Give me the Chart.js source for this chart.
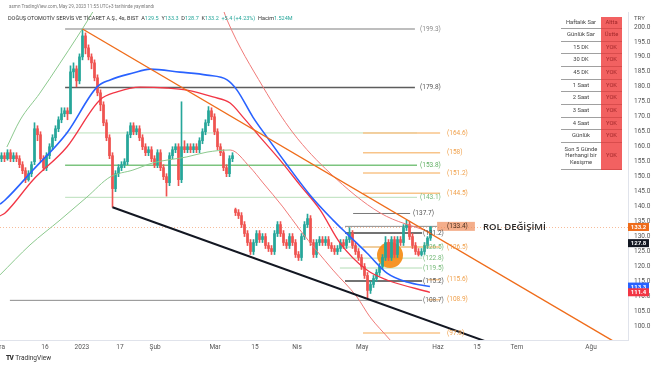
<!DOCTYPE html>
<html lang="tr">
<head>
<meta charset="utf-8">
<title>DOAS 4s</title>
<script src="https://cdn.jsdelivr.net/npm/chart.js@4.4.1/dist/chart.umd.min.js"></script>
<style>
  html, body { margin: 0; padding: 0; background: #fff; }
  body { width: 654px; height: 366px; position: relative; overflow: hidden; font-family: Roboto, 'Open Sans', sans-serif; }
  #chartBox { position: absolute; left: 0; top: 0; width: 654px; height: 366px; }
  .pub { position: absolute; left: 9px; top: 4px; font-size: 4.6px; color: #7a7a7a; white-space: nowrap; }
  .legend { position: absolute; left: 8px; top: 14.5px; font-size: 5.5px; color: #333; white-space: nowrap; }
  .legend .up { color: #26a69a; }
  .cur { position: absolute; left: 634px; top: 14px; font-size: 6px; color: #555; }
  .brand { position: absolute; left: 6px; top: 354px; font-size: 6.5px; color: #333; white-space: nowrap; }
  .brand b { font-weight: 900; letter-spacing: -0.6px; margin-right: 2px; }
  #sarTable { position: absolute; left: 561px; top: 17px; border-collapse: collapse; font-size: 5.8px; line-height: 1.15; }
  #sarTable td { padding: 0; text-align: center; }
  #sarTable td.k { width: 40px; color: #444; background: #fff; border-bottom: 1px solid #a0a0a0; }
  #sarTable td.v { width: 21px; color: #a3282b; background: #f26161; border-bottom: 1px solid #d94c4c; }
</style>
</head>
<body>
<div id="chartBox"><canvas id="doasChart" width="654" height="366"></canvas></div>
<div class="pub">asmn TradingView.com, May 29, 2023 11:55 UTC+3 tarihinde yayınlandı</div>
<div class="legend" id="legend"></div>
<div class="cur">TRY</div>
<table id="sarTable"></table>
<div class="brand"><b>TV</b>TradingView</div>
<script>
// mumlar (4 saatlik), soldan sağa
const opens = [156,157,156,158,156,157,156,154,152,149, 151,155,166,164,156,153,157,160,163,166,
  169,171,172,171,185,186,182,190,197,193, 190,188,183,178,174,168,163,157,146,151,
  153,154,155,164,167,165,166,163,160,158, 159,156,154,158,153,150,148,157,159,160,
  149,160,159,160,159,160,159,162,165,168, 172,170,165,160,158,153,151,156,139,138,
  137,134,131,128,125,128,131,129,130,127, 126,125,131,134,131,128,127,130,128,124,
  123,130,134,136,128,124,128,129,128,129, 127,126,125,126,128,127,129,131,127,125,
  123,120,117,112,114,116,118,120,123,128, 123,129,124,129,128,133,134,130,127,125,
  124,125,127,129.5];
const highs = [158,158,159,159,158,158,157,155,153,152, 155,168,167,165,157,158,161,164,167,170,
  173,173,173,187,188,187,191,199.3,198,194, 191,189,184,179,175,169,164,158,152,154,
  155,156,165,168,168,167,167,164,161,160, 160,157,159,159,154,151,158,160,161,161,
  175,162,161,161,161,161,163,166,169,173.4, 173,171,166,161,159,154,157,158,139.5,139,
  138,135,132,129,129,132,132,131,131,128, 127,132,135,135,132,129,131,131,129,125,
  131,135,137.5,137,129,129,130,130,130,130, 128,127,127,129,129,130,133,132,128,126,
  124,121,118,115,117,119,121,124,130,129, 130,130,130,130,134,135.5,135,131,128,126,
  126,128,130,133.3];
const lows = [155,155,155.5,155,155,155,153,151,148,148.5, 150,154,162,155,152,152,156,159,162,165,
  168,170,169,171,183,180,181,189,191,189, 186,182,177,172,167,162,156,139.8,145,150,
  152,153,154,163,164,164,162,159,157,157, 155,153,153,152,149,143.5,147,156,158,147,
  148,158,158,158,158,158,158,161,164,167, 169,164,159,157,152,150,150,155,137,136,
  133,130,127,124,124,127,128,128,126,125, 124,124,130,130,127,126,126,127,123,122,
  122,129,133,127,123,123,127,127,127,126, 125,124,124,125,126,126,128,126,124,122,
  119,116,109.5,111,113,115,117,119,122,122, 122,123,123,127,127,132,129,126,124,123.5,
  123.5,124,126,128.7];
const closes = [157,156,158,156,157,156,154,152,149,151, 154,166,164,156,153,157,160,163,166,169,
  171,172,171,185,186,182,190,197,193,190, 188,183,178,174,168,163,157,146,151,153,
  154,155,164,167,165,166,163,160,158,159, 156,154,158,153,150,148,157,159,160,149,
  160,159,160,159,160,159,162,165,168,172, 170,165,160,158,153,151,156,157,138,137,
  134,131,128,125,128,131,129,130,127,126, 125,131,134,131,128,127,130,128,124,123,
  130,134,136,128,124,128,129,128,129,127, 126,125,126,128,127,129,131,127,125,123,
  120,117,112,114,116,118,120,123,128,123, 129,124,129,128,133,134,130,127,125,124,
  125,127,129.5,133.2];
const prevDayClose = 127.8;
const volumeText = '1.524M';

// hareketli ortalamalar (mum sırası, fiyat)
const blueMaX = [-0.5, 1.2, 10.5, 21.8, 31.8, 36.2, 43.8, 49.5, 59.5, 68.5, 75.2, 78.5, 83.8, 88.5, 95.2, 102.8, 110.5, 115.2, 121.8, 128.5, 135.2, 142.8];
const blueMaY = [140.8, 142.2, 152.2, 164.6, 179.9, 182.3, 184.6, 185.9, 184.9, 183.9, 182.3, 178.9, 169.9, 163.2, 153.9, 143.9, 135.5, 130.9, 124.5, 117.8, 114.8, 113.3];
const redMaX = [-0.5, 1.2, 10.5, 21.8, 32.8, 38.5, 46.2, 55.2, 61.8, 70.5, 76.2, 80.5, 86.2, 92.8, 99.5, 106.2, 112.8, 121.8, 128.5, 142.8];
const redMaY = [136.9, 137.9, 148.9, 159.9, 175.6, 178.3, 179.9, 179.6, 178.9, 176.6, 174.6, 169.9, 163.2, 155.6, 147.2, 138.9, 127.9, 118.8, 115.5, 111.4];
const upperRiseX = [1.8, 6.2, 12.8, 19.5, 25.2, 28.8, 32.8];
const upperRiseY = [159.9, 168.9, 177.9, 187.9, 196.6, 202.3, 209];
const upperFallX = [72.8, 75.2, 87.2, 97.2, 109.5, 126.2, 142.8];
const upperFallY = [209, 202.3, 179.9, 164.6, 151.2, 137.9, 131.5];
const slowMaX = [-0.5, 9.5, 19.5, 28.5, 36.2, 43.8, 50.5, 61.8, 68.5, 76.2, 82.8, 87.2, 93.8, 99.5, 110.5, 118.5, 122.8, 129.5, 132.8];
const slowMaY = [117.2, 127.2, 135.5, 143.2, 149.9, 152.2, 154.6, 156.6, 158.2, 158.9, 153.2, 147.9, 139.9, 132.2, 118.8, 109.8, 103.2, 95.5, 91.5];

// trend çizgileri
const resistX = [27, 208];
const resistY = [199.3, 92.7];
const supportX = [37, 175];
const supportY = [139.8, 90.1];

// işaretlenen bölge
const zoneX = [129.5];
const zoneY = [123.8];

// yatay seviyeler
const levelPrices = [199.3, 179.8, 164.6, 164.6, 158, 153.8, 151.2, 144.5, 143.1, 137.7, 133.4, 131.2, 126.5, 126.5, 122.8, 119.5, 115.6, 115.2, 108.9, 108.7, 97.8];
const levelKinds = ['gray', 'dark', 'greenLine', 'orange', 'orange', 'green', 'orange', 'orange', 'greenFaint', 'grayShort', 'role', 'darkShort', 'greenShort', 'orange', 'greenShort', 'greenShort', 'orangeShort', 'darkShort', 'orangeShort', 'grayLong', 'orange'];
const roleNote = 'ROL DEĞİŞİMİ';

// eksen
const tickPos = [-0.5, 14.5, 26.8, 39.5, 51.2, 71.2, 84.5, 98.5, 120.2, 145.5, 158.5, 171.8, 196.5];
const tickLabels = ['Ara', '16', '2023', '17', 'Şub', 'Mar', '15', 'Nis', 'May', 'Haz', '15', 'Tem', 'Ağu'];

// SAR tablosu
const sarLabels = ['Haftalık Sar', 'Günlük Sar', '15 DK', '30 DK', '45 DK', '1 Saat', '2 Saat', '3 Saat', '4 Saat', 'Günlük', 'Son 5 Günde Herhangi bir Kesişme'];
const sarValues = ['Altta', 'Üstte', 'YOK', 'YOK', 'YOK', 'YOK', 'YOK', 'YOK', 'YOK', 'YOK', 'YOK'];

const colors = {
    up: '#26a69a',
    down: '#ef5350',
    blue: '#2962ff',
    red: '#f23645',
    thinGreen: '#8cc98e',
    thinRed: '#f07a78',
    orange: '#ef6c1a',
    black: '#131722',
    text: '#555'
};

// başlık
const last = closes.length - 1;
const chg = closes[last] - prevDayClose;
document.getElementById('legend').innerHTML =
    'DOĞUŞ OTOMOTİV SERVİS VE TİCARET A.Ş., 4s, BIST&nbsp;&nbsp;' +
    'A<span class="up">' + opens[last].toFixed(1) + '</span>&nbsp;&nbsp;' +
    'Y<span class="up">' + highs[last].toFixed(1) + '</span>&nbsp;&nbsp;' +
    'D<span class="up">' + lows[last].toFixed(1) + '</span>&nbsp;&nbsp;' +
    'K<span class="up">' + closes[last].toFixed(1) + '&nbsp;&nbsp;+' + chg.toFixed(1) +
    ' (+' + (chg / prevDayClose * 100).toFixed(2) + '%)</span>&nbsp;&nbsp;' +
    'Hacim<span class="up">' + volumeText + '</span>';

// tablo
const rowHeights = [11, 13, 12, 13, 13, 12, 13, 13, 12, 13, 27];
const tbl = document.getElementById('sarTable');
sarLabels.forEach((lab, i) => {
    const tr = document.createElement('tr');
    tr.style.height = rowHeights[i] + 'px';
    tr.innerHTML = '<td class="k">' + lab + '</td><td class="v">' + sarValues[i] + '</td>';
    tbl.appendChild(tr);
});

const levelLook = {
    gray:        { from: 21.2, to: 137.8, color: '#a8a8a8', width: 1.5, labelX: 139.5, text: '#8a8a8a' },
    dark:        { from: 21.2, to: 137.8, color: '#5d5d5d', width: 1.5, labelX: 139.5, text: '#555' },
    greenLine:   { from: 21.2, to: 138.5, color: 'rgba(129,199,132,0.55)', width: 1, labelX: null },
    greenFaint:  { from: 21.2, to: 138.5, color: 'rgba(129,199,132,0.55)', width: 1, labelX: 139.5, text: '#74b977' },
    green:       { from: 21.2, to: 138.5, color: '#7cc47f', width: 1.5, labelX: 139.5, text: '#5fae62' },
    orange:      { from: 120.5, to: 146.2, color: '#f8c48a', width: 1.5, labelX: 148.5, text: '#f0a04b' },
    orangeShort: { from: 142.2, to: 146.2, color: '#f8c48a', width: 1.5, labelX: 148.5, text: '#f0a04b' },
    grayShort:   { from: 117.2, to: 136.2, color: '#7a7a7a', width: 1, labelX: 137.2, text: '#555' },
    darkShort:   { from: 114.5, to: 140.2, color: '#444', width: 1.5, labelX: 140.5, text: '#555' },
    greenShort:  { from: 112.8, to: 140.2, color: 'rgba(129,199,132,0.6)', width: 1, labelX: 140.5, text: '#74b977' },
    grayLong:    { from: 2.8, to: 140.2, color: '#8c8c8c', width: 1, labelX: 140.5, text: '#666' },
    role:        { from: 114.5, to: 145.2, color: '#8c8c8c', width: 1, labelX: 148.5, text: '#4a3020', box: [145.2, 157.8] }
};
const roleNoteX = 160.5;

const overlay = {
    id: 'overlay',
    beforeDatasetsDraw(chart) {
        const { ctx, chartArea: a } = chart;
        const { x, y } = chart.scales;
        ctx.save();
        ctx.beginPath(); ctx.rect(a.left, a.top, a.width, a.height); ctx.clip();
        // son fiyat çizgisi
        const py = Math.round(y.getPixelForValue(closes[last])) + 0.5;
        ctx.strokeStyle = 'rgba(238,106,31,0.45)';
        ctx.lineWidth = 1;
        ctx.setLineDash([1, 2]);
        ctx.beginPath(); ctx.moveTo(a.left, py); ctx.lineTo(a.right, py); ctx.stroke();
        ctx.setLineDash([]);
        levelPrices.forEach((p, i) => {
            const look = levelLook[levelKinds[i]];
            const yy = y.getPixelForValue(p);
            ctx.strokeStyle = look.color;
            ctx.lineWidth = look.width;
            ctx.beginPath();
            ctx.moveTo(x.getPixelForValue(look.from), yy);
            ctx.lineTo(x.getPixelForValue(look.to), yy);
            ctx.stroke();
        });
        ctx.restore();
    },
    afterDatasetsDraw(chart) {
        const { ctx } = chart;
        const { x, y } = chart.scales;
        ctx.save();
        ctx.font = '6.5px Roboto, sans-serif';
        ctx.textBaseline = 'middle';
        ctx.textAlign = 'left';
        levelPrices.forEach((p, i) => {
            const look = levelLook[levelKinds[i]];
            if (look.labelX == null) return;
            const yy = y.getPixelForValue(p);
            if (look.box) {
                const x0 = x.getPixelForValue(look.box[0]);
                const x1 = x.getPixelForValue(look.box[1]);
                ctx.fillStyle = 'rgba(240,140,90,0.7)';
                ctx.fillRect(x0, yy - 4.5, x1 - x0, 9);
                ctx.font = '600 9.5px "Open Sans", sans-serif';
                ctx.fillStyle = '#2b2b2b';
                ctx.fillText(roleNote, x.getPixelForValue(roleNoteX), yy + 1);
                ctx.font = '6.5px Roboto, sans-serif';
            }
            ctx.fillStyle = look.text;
            ctx.fillText('(' + p + ')', x.getPixelForValue(look.labelX), yy);
        });
        ctx.restore();
    },
    afterDraw(chart) {
        const { ctx, chartArea: a } = chart;
        const y = chart.scales.y;
        const tags = [
            [prevDayClose, colors.black],
            [closes[last], colors.orange],
            [blueMaY[blueMaY.length - 1], colors.blue],
            [redMaY[redMaY.length - 1], colors.red]
        ];
        ctx.save();
        ctx.font = 'bold 6px Roboto, sans-serif';
        ctx.textAlign = 'center';
        ctx.textBaseline = 'middle';
        tags.forEach(([v, c]) => {
            const yy = y.getPixelForValue(v);
            ctx.fillStyle = c;
            ctx.fillRect(a.right, yy - 4, 21, 8);
            ctx.fillStyle = '#fff';
            ctx.fillText(v.toFixed(1), a.right + 10.5, yy + 0.5);
        });
        ctx.restore();
    }
};

const toPts = (xs, ys) => xs.map((v, i) => ({ x: v, y: ys[i] }));
const candleColor = (ctx) => closes[ctx.dataIndex] >= opens[ctx.dataIndex] ? colors.up : colors.down;
const lineBase = { type: 'line', pointRadius: 0, fill: false, cubicInterpolationMode: 'monotone' };

Chart.defaults.font.family = "Roboto, 'Open Sans', sans-serif";
Chart.defaults.color = colors.text;

new Chart(document.getElementById('doasChart'), {
    type: 'bar',
    data: {
        datasets: [
            {
                ...lineBase, label: 'zone', data: toPts(zoneX, zoneY), showLine: false,
                pointRadius: 13, pointBackgroundColor: 'rgba(245,140,20,0.92)', pointBorderWidth: 0, order: 30
            },
            {
                label: 'fitil', data: lows.map((l, i) => ({ x: i, y: [l, highs[i]] })),
                backgroundColor: candleColor, barThickness: 1, grouped: false, order: 21
            },
            {
                label: 'gövde', data: opens.map((o, i) => ({ x: i, y: [o, closes[i]] })),
                backgroundColor: candleColor, barThickness: 2, minBarLength: 1, grouped: false, order: 20
            },
            {
                ...lineBase, label: 'yavaş', data: toPts(slowMaX, slowMaY), borderWidth: 1,
                segment: { borderColor: (c) => c.p1.parsed.y >= c.p0.parsed.y ? colors.thinGreen : colors.thinRed },
                order: 6
            },
            { ...lineBase, label: 'üst yükselen', data: toPts(upperRiseX, upperRiseY), borderColor: colors.thinGreen, borderWidth: 1, order: 5 },
            { ...lineBase, label: 'üst düşen', data: toPts(upperFallX, upperFallY), borderColor: colors.thinRed, borderWidth: 1, order: 5 },
            { ...lineBase, label: 'kırmızı', data: toPts(redMaX, redMaY), borderColor: colors.red, borderWidth: 1.3, order: 4 },
            { ...lineBase, label: 'mavi', data: toPts(blueMaX, blueMaY), borderColor: colors.blue, borderWidth: 1.6, order: 3 },
            { ...lineBase, label: 'direnç', data: toPts(resistX, resistY), borderColor: colors.orange, borderWidth: 1.4, tension: 0, cubicInterpolationMode: 'default', order: 1 },
            { ...lineBase, label: 'destek', data: toPts(supportX, supportY), borderColor: colors.black, borderWidth: 2, tension: 0, cubicInterpolationMode: 'default', order: 1 }
        ]
    },
    options: {
        responsive: false,
        animation: false,
        events: [],
        layout: { autoPadding: false, padding: { top: 12, bottom: 12, left: 0, right: 0 } },
        plugins: { legend: { display: false }, tooltip: { enabled: false } },
        scales: {
            x: {
                type: 'linear', min: -0.5, max: 208.83, offset: false,
                grid: { display: false, drawTicks: false },
                border: { color: '#e0e3eb' },
                afterBuildTicks: (s) => { s.ticks = tickPos.map((v) => ({ value: v })); },
                afterFit: (s) => { s.height = 14; s.paddingLeft = 0; s.paddingRight = 0; },
                ticks: {
                    autoSkip: false, maxRotation: 0, padding: 3, color: colors.text,
                    font: { size: 6.5 },
                    callback: (v, i) => tickLabels[i]
                }
            },
            y: {
                position: 'right', min: 95.46, max: 204.98,
                grid: { display: false, drawTicks: false },
                border: { color: '#e0e3eb' },
                afterFit: (s) => { s.width = 26; s.paddingTop = 0; s.paddingBottom = 0; },
                ticks: {
                    stepSize: 5, includeBounds: false, padding: 6, color: colors.text,
                    font: { size: 6.5 },
                    callback: (v) => v.toFixed(1)
                }
            }
        }
    },
    plugins: [overlay]
});
</script>
</body>
</html>
